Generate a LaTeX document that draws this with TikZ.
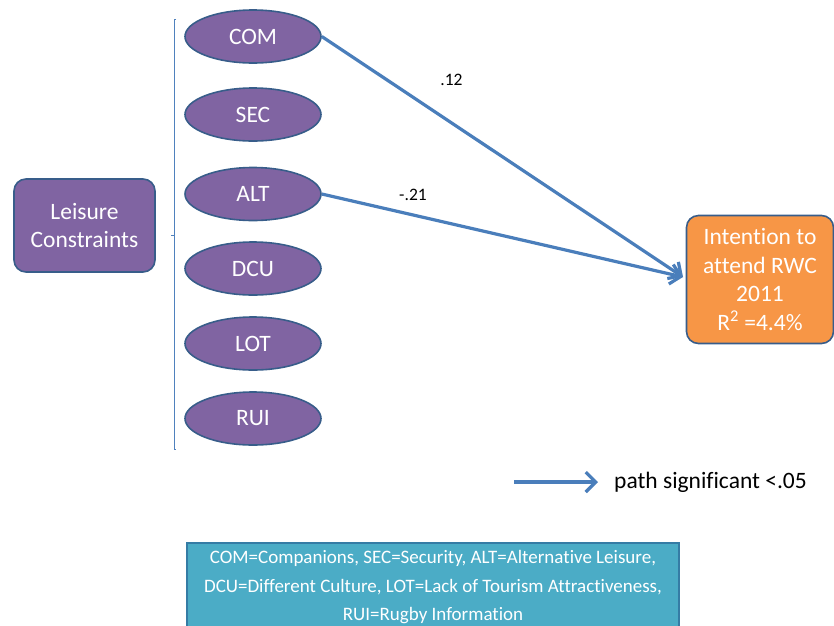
\documentclass[tikz,border=0pt]{standalone}
\usepackage{fontspec}
\setmainfont{Carlito}[Ligatures=NoCommon]
\usetikzlibrary{arrows.meta,shapes.geometric}
\definecolor{constrfill}{HTML}{8064A2}
\definecolor{edgeblue}{HTML}{385D8A}
\definecolor{intentfill}{HTML}{F79646}
\definecolor{keyfill}{HTML}{4BACC6}
\definecolor{keyedge}{HTML}{357CA5}
\definecolor{pathblue}{HTML}{4A7EBB}
\definecolor{bracketblue}{HTML}{4F81BD}
\tikzset{
  x=1pt, y=-1pt,
  bigtext/.style={font=\fontsize{23.5}{28.5}\selectfont, text=white, align=center},
  factor/.style={ellipse, draw=edgeblue, line width=1.6pt, fill=constrfill,
    minimum width=136pt, minimum height=53pt, inner sep=0pt, bigtext},
  roundbox/.style={rounded corners=12pt, draw=edgeblue, line width=1.6pt, bigtext},
  pathline/.style={draw=pathblue, line width=3.2pt,
    -{Straight Barb[length=10pt,width=20pt,line width=3.2pt]}},
  coef/.style={font=\fontsize{17.5}{19}\selectfont, text=black},
}
\begin{document}
\begin{tikzpicture}
\useasboundingbox (0,0) rectangle (834,625);
\clip (0,0) rectangle (834,625);

% latent construct
\node[roundbox, fill=constrfill, minimum width=141pt, minimum height=93pt]
  (lc) at (84.5,225.5) {Leisure\\Constraints};

% bracket grouping the six factors
\coordinate (btop) at (174,19);
\coordinate (bbot) at (174,449);
\coordinate (bmid) at (174,235);
\draw[bracketblue, line width=0.8pt] ([xshift=2pt]btop) -- (btop) -- (bbot) -- ([xshift=2pt]bbot);
\draw[bracketblue, line width=0.8pt] (bmid) -- ([xshift=-3pt]bmid);

% factors
\node[factor] (com) at (253,36.5) {COM};
\node[factor] (sec) at (253,114.5) {SEC};
\node[factor] (alt) at (253,194) {ALT};
\node[factor] (dcu) at (253,268.5) {DCU};
\node[factor] (lot) at (253,343.5) {LOT};
\node[factor] (rui) at (253,418.5) {RUI};

% outcome
\node[roundbox, fill=intentfill, minimum width=147pt, minimum height=128pt]
  (rwc) at (760,279.5) {Intention to\\attend RWC\\2011\\R\textsuperscript{2} =4.4\%};
\coordinate (tip) at (683,277);

% significant paths
\draw[pathline] (com.east) -- (tip);
\draw[pathline] (alt.east) -- (tip);
\node[coef] (c1) at (451.5,80) {.12};
\node[coef] (c2) at (413,195) {-.21};

% legend
\coordinate (lgs) at (514,482);
\coordinate (lge) at (598,482);
\draw[pathline] (lgs) -- (lge);
\node[anchor=west, inner sep=0pt, font=\fontsize{23.5}{28}\selectfont] (lgt) at (614,482) {path significant <.05};

% abbreviation key
\node[draw=keyedge, line width=1.6pt, fill=keyfill, minimum width=492pt,
  minimum height=100pt, anchor=north, inner sep=0pt] (keybox) at (433,542) {};
\node[anchor=north, align=center, text=white, font=\fontsize{19}{28.5}\selectfont]
  (keytext) at (433,547)
  {COM=Companions, SEC=Security, ALT=Alternative Leisure,\\
   DCU=Different Culture, LOT=Lack of Tourism Attractiveness,\\
   RUI=Rugby Information};
\end{tikzpicture}
\end{document}
